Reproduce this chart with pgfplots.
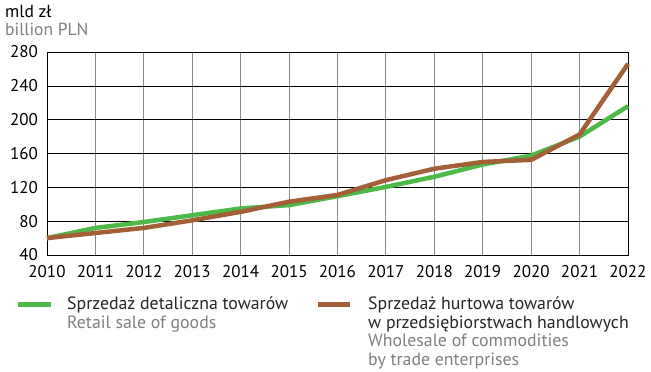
\documentclass[border=0pt]{standalone}
\usepackage{pgfplots}
\pgfplotsset{compat=1.18}
\usepackage{fontspec}
\setmainfont{PT Sans}
\definecolor{retail}{RGB}{77,185,72}
\definecolor{whole}{RGB}{163,96,56}
\definecolor{gridgrey}{RGB}{135,135,135}
\definecolor{subgrey}{RGB}{128,128,128}
\begin{document}
\begin{tikzpicture}[x=1pt,y=1pt]
\useasboundingbox (-47,-117) rectangle (604,255);
\begin{axis}[
  scale only axis, width=581pt, height=203pt,
  xmin=2010, xmax=2022, ymin=40, ymax=280,
  xtick={2010,...,2022}, ytick={40,80,...,280},
  /pgf/number format/assume math mode=true,
  xticklabel style={/pgf/number format/1000 sep={}, font=\fontsize{17}{17}\selectfont, inner sep=0pt, anchor=north, yshift=-10pt},
  yticklabel style={font=\fontsize{17}{17}\selectfont, inner sep=0pt, anchor=east, xshift=-9pt},
  major tick length=0pt,
  xmajorgrids, ymajorgrids,
  x grid style={gridgrey, line width=0.8pt},
  y grid style={black, line width=0.6pt},
  axis line style={black, line width=0.7pt},
  clip=false,
]
\addplot[retail, line width=4.5pt, line join=round] coordinates {
(2010,60) (2011,72) (2012,79) (2013,87) (2014,95) (2015,99) (2016,109.5)
(2017,120.5) (2018,132.5) (2019,147) (2020,157.5) (2021,180) (2022,216)};
\addplot[whole, line width=4.5pt, line join=round] coordinates {
(2010,60) (2011,66) (2012,72) (2013,81) (2014,91) (2015,103) (2016,111)
(2017,128.5) (2018,142) (2019,150) (2020,152.5) (2021,182.5) (2022,266)};
\end{axis}
\node[anchor=base west, inner sep=0pt, font=\fontsize{17.5}{17}\selectfont, text=black] at (-42,237) {mld zł};
\node[anchor=base west, inner sep=0pt, font=\fontsize{17.5}{17}\selectfont, text=subgrey] at (-42,219) {billion PLN};
% legend
\draw[retail, line width=5pt] (-29,-50) -- (4,-50);
\node[anchor=base west, inner sep=0pt, font=\fontsize{17.8}{20}\selectfont, text=black!85] at (20,-55) {Sprzedaż detaliczna towarów};
\node[anchor=base west, inner sep=0pt, font=\fontsize{17.8}{20}\selectfont, text=subgrey] at (20,-73.5) {Retail sale of goods};
\draw[whole, line width=5pt] (271,-50) -- (303,-50);
\node[anchor=base west, inner sep=0pt, font=\fontsize{17.8}{20}\selectfont, text=black!85] at (321,-55) {Sprzedaż hurtowa towarów};
\node[anchor=base west, inner sep=0pt, font=\fontsize{17.8}{20}\selectfont, text=black!85] at (321,-73.5) {w przedsiębiorstwach handlowych};
\node[anchor=base west, inner sep=0pt, font=\fontsize{17.8}{20}\selectfont, text=subgrey] at (321,-92) {Wholesale of commodities};
\node[anchor=base west, inner sep=0pt, font=\fontsize{17.8}{20}\selectfont, text=subgrey] at (321,-110.5) {by trade enterprises};
\end{tikzpicture}
\end{document}
